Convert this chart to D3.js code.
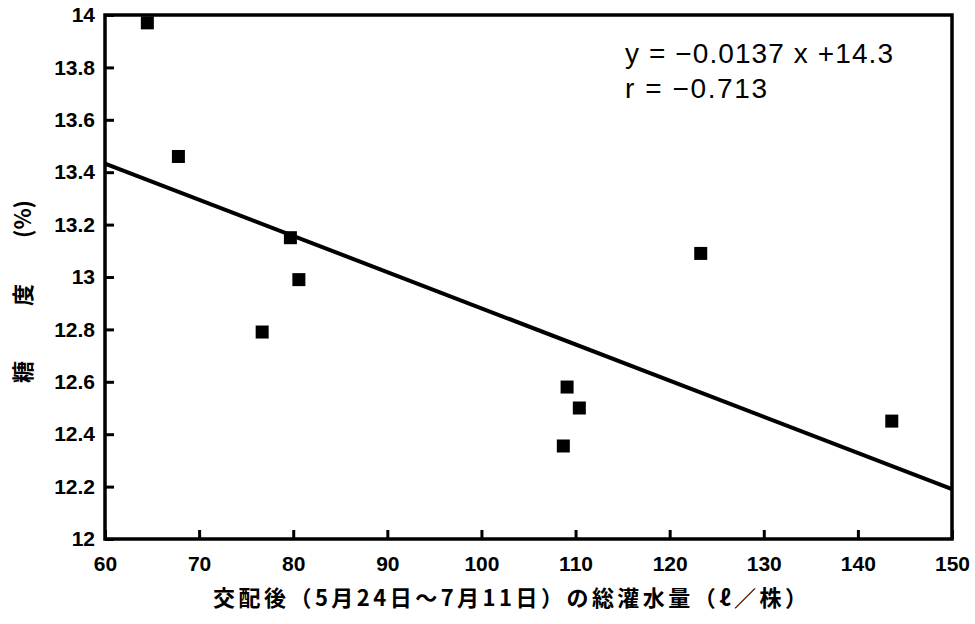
<!DOCTYPE html>
<html>
<head>
<meta charset="utf-8">
<script src="https://cdn.jsdelivr.net/npm/d3@7"></script>
<style>
    body { margin: 0; background: #fff; }
    svg { display: block; }
</style>
</head>
<body>
<svg id="chart"></svg>
<script>
// irrigation (l / plant) vs sugar content (%)
var water = [64.5, 67.8, 79.7, 80.6, 76.7, 109.1, 110.4, 108.7, 123.3, 143.6];
var sugar = [13.97, 13.46, 13.15, 12.99, 12.79, 12.58, 12.50, 12.355, 13.09, 12.45];

// fitted line at both ends of the x range
var fitX = [60, 150];
var fitY = [13.433, 12.19];

var xTicks = [60, 70, 80, 90, 100, 110, 120, 130, 140, 150];
var yTicks = [12, 12.2, 12.4, 12.6, 12.8, 13, 13.2, 13.4, 13.6, 13.8, 14];

var eqText = 'y = \u22120.0137 x +14.3';
var rText = 'r = \u22120.713';
var xTitle = '交配後（5月24日〜7月11日）の総灌水量（ℓ／株）';
var yTitle = ['糖', '度', '(%)'];

var width = 975, height = 624;
var plot = {left: 105, right: 952, top: 15, bottom: 539};
var latin = '"Liberation Sans", Arial, sans-serif';
var cjk = '"Noto Sans CJK JP", sans-serif';

var svg = d3.select('#chart')
    .attr('width', width)
    .attr('height', height);

var x = d3.scaleLinear().domain([60, 150]).range([plot.left, plot.right]);
var y = d3.scaleLinear().domain([12, 14]).range([plot.bottom, plot.top]);

//axes with inward ticks, frame drawn separately
var xAxis = svg.append('g')
    .attr('transform', 'translate(0,' + plot.bottom + ')')
    .call(d3.axisBottom(x)
        .tickValues(xTicks)
        .tickSize(-9)
        .tickPadding(17)
        .tickFormat(function(d) { return String(d); }));

var yAxis = svg.append('g')
    .attr('transform', 'translate(' + plot.left + ',0)')
    .call(d3.axisLeft(y)
        .tickValues(yTicks)
        .tickSize(-9)
        .tickPadding(10)
        .tickFormat(function(d) { return String(d); }));

[xAxis, yAxis].forEach(function(ax) {
    ax.select('.domain').remove();
    ax.selectAll('.tick line')
        .attr('stroke', '#000')
        .attr('stroke-width', 3);
    ax.selectAll('.tick text')
        .attr('fill', '#000')
        .attr('font-family', latin)
        .attr('font-weight', 'bold')
        .attr('font-size', 21);
});

svg.append('rect')
    .attr('x', plot.left)
    .attr('y', plot.top)
    .attr('width', plot.right - plot.left)
    .attr('height', plot.bottom - plot.top)
    .attr('fill', 'none')
    .attr('stroke', '#000')
    .attr('stroke-width', 3.5);

//regression line
svg.append('line')
    .attr('x1', x(fitX[0]))
    .attr('y1', y(fitY[0]))
    .attr('x2', x(fitX[1]))
    .attr('y2', y(fitY[1]))
    .attr('stroke', '#000')
    .attr('stroke-width', 4);

//square markers
var size = 13;
svg.append('g')
    .selectAll('rect')
    .data(water.map(function(w, i) { return {w: w, s: sugar[i]}; }))
    .join('rect')
    .attr('x', function(d) { return x(d.w) - size / 2; })
    .attr('y', function(d) { return y(d.s) - size / 2; })
    .attr('width', size)
    .attr('height', size)
    .attr('fill', '#000');

//equation text
svg.append('text')
    .attr('x', 625)
    .attr('y', 63)
    .attr('textLength', 268)
    .attr('lengthAdjust', 'spacing')
    .attr('font-family', latin)
    .attr('font-size', 28)
    .text(eqText);

svg.append('text')
    .attr('x', 625)
    .attr('y', 98)
    .attr('textLength', 142)
    .attr('lengthAdjust', 'spacing')
    .attr('font-family', latin)
    .attr('font-size', 28)
    .text(rText);

//axis titles
svg.append('text')
    .attr('x', 213)
    .attr('y', 606)
    .attr('textLength', 594)
    .attr('lengthAdjust', 'spacing')
    .attr('font-family', cjk)
    .attr('font-weight', 'bold')
    .attr('font-size', 22)
    .text(xTitle);

var yTitlePos = [372, 295, 219];
svg.append('g')
    .selectAll('text')
    .data(yTitle)
    .join('text')
    .attr('transform', function(d, i) { return 'translate(21,' + yTitlePos[i] + ') rotate(-90)'; })
    .attr('text-anchor', 'middle')
    .attr('dominant-baseline', 'central')
    .attr('font-family', cjk)
    .attr('font-weight', 'bold')
    .attr('font-size', 22)
    .text(function(d) { return d; });
</script>
</body>
</html>
